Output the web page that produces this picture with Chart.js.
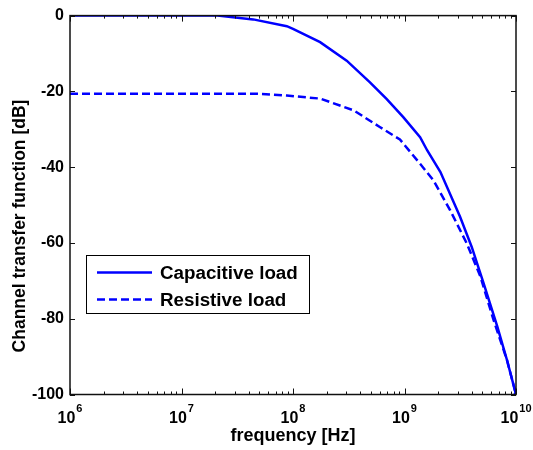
<!DOCTYPE html>
<html>
<head>
<meta charset="utf-8">
<script src="https://cdn.jsdelivr.net/npm/chart.js@4.4.0/dist/chart.umd.min.js"></script>
<style>
  html, body { margin: 0; padding: 0; background: #fff; }
  #wrap { width: 533px; height: 450px; }
</style>
</head>
<body>
<div id="wrap"><canvas id="tfChart" width="533" height="450"></canvas></div>
<script>
// frequency [Hz] and channel transfer function [dB]
const capFreq = [1e6, 1e7, 2.1e7, 4.4e7, 8.8e7, 1e8, 1.75e8, 3.03e8, 4.9e8, 6.9e8, 9.75e8, 1.38e9, 1.6e9, 2.1e9, 3.15e9, 4e9, 5.1e9, 6.8e9, 8.3e9, 1e10];
const capDb = [0, 0, 0, -1.0, -2.8, -3.5, -7.0, -11.9, -17.6, -22.0, -26.8, -32.1, -35.6, -41.3, -53.1, -61, -70.5, -82.1, -90.9, -100];
const resFreq = [1e6, 1e7, 4.8e7, 8.8e7, 1.75e8, 3.5e8, 6e8, 9.1e8, 1.38e9, 1.82e9, 2.57e9, 3.63e9, 4.8e9, 6.3e9, 8.3e9, 1e10];
const resDb = [-20.6, -20.6, -20.6, -21.1, -21.9, -25.0, -29.4, -32.7, -39.1, -43.5, -51.4, -60.2, -68.9, -80.4, -90.9, -100];
const seriesNames = ['Capacitive load', 'Resistive load'];
const yTicks = [0, -20, -40, -60, -80, -100];
const xDecades = [6, 7, 8, 9, 10];
const xTitle = 'frequency [Hz]';
const yTitle = 'Channel transfer function [dB]';

const FONT = '"Liberation Sans", Arial, Helvetica, sans-serif';

function toPoints(xs, ys) {
    return xs.map((x, i) => ({ x: x, y: ys[i] }));
}

// MATLAB style box, inward ticks, 10^n labels, y label and legend
const matlabAxes = {
    id: 'matlabAxes',
    afterDraw(chart) {
        const ctx = chart.ctx;
        const a = chart.chartArea;
        const xs = chart.scales.x;
        const ys = chart.scales.y;
        ctx.save();

        // box
        ctx.strokeStyle = '#111';
        ctx.lineWidth = 1.5;
        ctx.strokeRect(a.left, a.top, a.right - a.left, a.bottom - a.top);

        // y ticks
        ctx.lineWidth = 1;
        ctx.beginPath();
        yTicks.forEach(v => {
            const py = Math.round(ys.getPixelForValue(v)) + 0.5;
            ctx.moveTo(a.left, py); ctx.lineTo(a.left + 5, py);
            ctx.moveTo(a.right, py); ctx.lineTo(a.right - 5, py);
        });
        // x ticks, major and minor
        xDecades.forEach(d => {
            for (let m = 1; m <= 9; m++) {
                const f = m * Math.pow(10, d);
                if (f > xs.max * 1.0001) break;
                const px = Math.round(xs.getPixelForValue(f)) + 0.5;
                const len = m === 1 ? 6 : 3;
                ctx.moveTo(px, a.bottom); ctx.lineTo(px, a.bottom - len);
                ctx.moveTo(px, a.top); ctx.lineTo(px, a.top + len);
            }
        });
        ctx.stroke();

        // x tick labels 10^n
        ctx.fillStyle = '#000';
        ctx.textBaseline = 'alphabetic';
        ctx.textAlign = 'left';
        xDecades.forEach(d => {
            const px = xs.getPixelForValue(Math.pow(10, d));
            ctx.font = 'bold 16px ' + FONT;
            const wb = ctx.measureText('10').width;
            ctx.font = 'bold 11px ' + FONT;
            const ws = ctx.measureText(String(d)).width;
            const x0 = px - (wb + ws + 1) / 2;
            ctx.font = 'bold 16px ' + FONT;
            ctx.fillText('10', x0, 423);
            ctx.font = 'bold 11px ' + FONT;
            ctx.fillText(String(d), x0 + wb + 1, 412);
        });

        // y title
        ctx.save();
        ctx.translate(20, 226);
        ctx.rotate(-Math.PI / 2);
        ctx.font = 'bold 17.5px ' + FONT;
        ctx.textAlign = 'center';
        ctx.textBaseline = 'middle';
        ctx.fillText(yTitle, 0, 0);
        ctx.restore();

        // legend
        const bx = 86, by = 255, bw = 223, bh = 58;
        ctx.fillStyle = '#fff';
        ctx.fillRect(bx, by, bw, bh);
        ctx.strokeStyle = '#000';
        ctx.lineWidth = 1;
        ctx.strokeRect(bx + 0.5, by + 0.5, bw, bh);
        const rows = [272.5, 299.5];
        chart.data.datasets.forEach((ds, i) => {
            ctx.strokeStyle = ds.borderColor;
            ctx.lineWidth = ds.borderWidth;
            ctx.setLineDash(ds.borderDash || []);
            ctx.beginPath();
            ctx.moveTo(97, rows[i]);
            ctx.lineTo(152, rows[i]);
            ctx.stroke();
            ctx.setLineDash([]);
            ctx.fillStyle = '#000';
            ctx.font = 'bold 18.8px ' + FONT;
            ctx.textAlign = 'left';
            ctx.textBaseline = 'middle';
            ctx.fillText(ds.label, 160, rows[i] + 1);
        });
        ctx.restore();
    }
};

const ctx1 = document.getElementById('tfChart').getContext('2d');
const tfChart = new Chart(ctx1, {
    type: 'line',
    data: {
        datasets: [{
            label: seriesNames[0],
            data: toPoints(capFreq, capDb),
            borderColor: '#0000ff',
            borderWidth: 2.5,
            pointRadius: c => (c.dataIndex === capFreq.length - 1 ? 2.5 : 0),
            pointBackgroundColor: '#0000ff',
            pointBorderWidth: 0,
            tension: 0,
            fill: false
        }, {
            label: seriesNames[1],
            data: toPoints(resFreq, resDb),
            borderColor: '#0000ff',
            borderWidth: 2.5,
            borderDash: [8, 4],
            pointRadius: 0,
            tension: 0,
            fill: false
        }]
    },
    options: {
        responsive: false,
        animation: false,
        events: [],
        layout: {
            padding: { top: 15, right: 17, left: 0, bottom: 0 }
        },
        scales: {
            x: {
                type: 'logarithmic',
                min: 1e6,
                max: 1e10,
                afterBuildTicks: s => { s.ticks = xDecades.map(d => ({ value: Math.pow(10, d) })); },
                afterFit: s => { s.height = 55.5; },
                ticks: { display: false },
                grid: { display: false },
                border: { display: false },
                title: {
                    display: true,
                    text: xTitle,
                    color: '#000',
                    font: { family: FONT, size: 18, weight: 'bold' },
                    padding: { top: 0, bottom: 3 }
                }
            },
            y: {
                min: -100,
                max: 0,
                afterBuildTicks: s => { s.ticks = yTicks.map(v => ({ value: v })); },
                afterFit: s => { s.width = 70; },
                ticks: {
                    color: '#000',
                    padding: 6,
                    font: { family: FONT, size: 16, weight: 'bold' }
                },
                grid: { display: false, drawTicks: false },
                border: { display: false }
            }
        },
        plugins: {
            legend: { display: false },
            tooltip: { enabled: false }
        }
    },
    plugins: [matlabAxes]
});
</script>
</body>
</html>
